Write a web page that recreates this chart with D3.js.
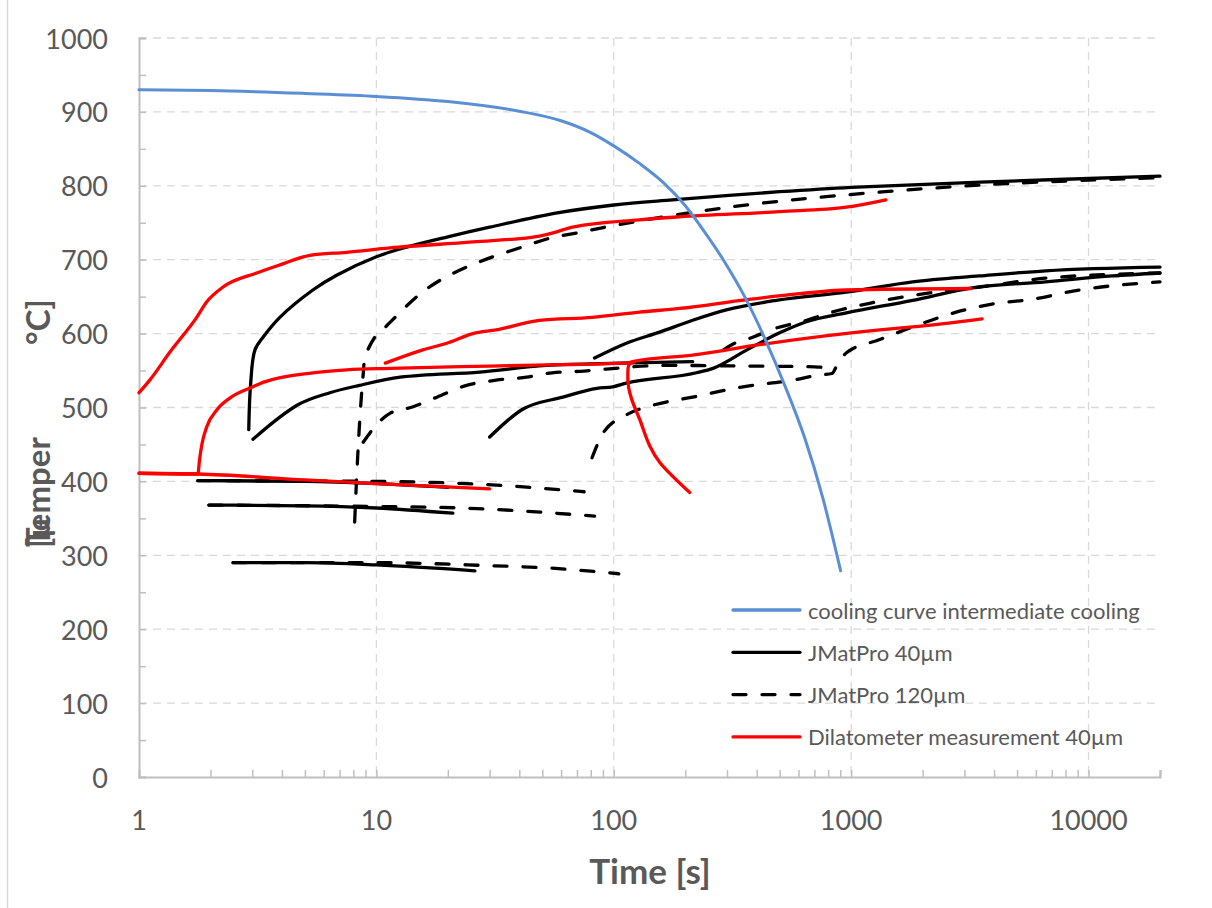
<!DOCTYPE html>
<html><head><meta charset="utf-8">
<script src="https://cdn.jsdelivr.net/npm/d3@7/dist/d3.min.js"></script>
<style>
html,body{margin:0;padding:0;background:#fff;}
svg{display:block;font-family:Lato,"Open Sans",sans-serif;}
</style></head>
<body>
<svg id="chart" width="1212" height="908"></svg>
<script>
// ---- data (time [s], temperature [°C]) ----
const xTicks = [1, 10, 100, 1000, 10000];
const yTicks = [0, 100, 200, 300, 400, 500, 600, 700, 800, 900, 1000];
const legendLabels = ["cooling curve intermediate cooling", "JMatPro 40µm", "JMatPro 120µm", "Dilatometer measurement 40µm"];

const coolingCurve = [[1,930],[2,929],[5,925],[10,921],[20,914],[40,901],[60,888],[80,872],[100,854],[128.7,830],[161,805],[199,774],[242,737],[293,697],[356,650],[432,594],[525,530],[637,459],[759,378],[903,279]];

// JMatPro 40µm (solid)
const jmp40_a = [[2.9,470],[2.95,530],[3.08,578],[3.33,595],[3.92,622],[5.4,659],[6.8,679],[10,704],[13.4,717],[20,731],[30,744],[57,763],[100,774],[177,781],[500,792],[1000,798],[3500,805],[20000,813]];
const jmp40_b = [[3.02,457],[3.92,487],[4.63,503],[6.37,520],[8.5,530],[12.6,541],[27.3,548],[52,557],[106,560],[215,562]];
const jmp40_c = [[30,460],[41,497],[61,514],[85,526],[99,528],[113,533],[223,547],[262,553],[364,578],[500,601],[648,616],[955,628],[1816,645],[3238,662],[6600,670],[12600,678],[20000,682]];
const jmp40_d = [[83,567],[113,587],[156,602],[215,618],[298,632],[484,645],[955,656],[1816,670],[3477,678],[6600,685],[20000,690]];
const jmp40_e = [[1.77,401],[5,400],[10,397],[20,392]];
const jmp40_f = [[1.97,368],[5,367],[10,364],[21,357]];
const jmp40_g = [[2.49,290],[5,290],[10,287],[26,279]];

// JMatPro 120µm (dashed)
const jmp120_a = [[8.1,345],[8.3,420],[8.5,480],[8.8,545],[9.0,570],[10,598],[10.6,605],[14.8,650],[18.5,672],[24,690],[31,704],[41,717],[53.6,729],[72,737],[99,746],[224,765],[568,781],[3477,801],[20000,811]];
const jmp120_b = [[8.8,453],[10.3,481],[11.4,492],[14.3,501],[18,514],[24,530],[32,537],[43,541],[55,547],[72,549],[93,552],[161,557],[400,556],[700,555],[800,553],[840,548]];
const jmp120_c = [[81,432],[90,465],[113,490],[146,503],[215,514],[350,528],[568,537],[735,544],[830,546],[880,560],[955,574],[1320,592],[1816,609],[2770,629],[4100,641],[5660,646],[9140,659],[20000,670]];
const jmp120_d = [[290,578],[314,585],[385,595],[467,606],[650,618],[810,628],[1197,641],[2140,655],[3477,663],[6600,675],[20000,682]];
const jmp120_e = [[1.77,401],[10,400],[32,395],[75,386]];
const jmp120_f = [[1.97,368],[10,366],[23,364],[41,360],[83,353]];
const jmp120_g = [[2.49,290],[10,290],[30,286],[52,283],[105,275]];

// Dilatometer measurement 40µm (red)
const dil_a = [[1,520],[1.11,537],[1.35,575],[1.75,622],[1.93,643],[2.26,663],[3.13,682],[3.92,693],[5.25,706],[7.5,710],[11.4,716],[25.5,724],[48.6,732],[55,736],[67,744],[128,754],[189,758],[500,765],[955,771],[1400,781]];
const dil_b = [[1,411],[1.77,410],[1.8,430],[1.84,450],[1.93,474],[2.13,497],[2.42,513],[3.02,528],[3.33,534],[5.4,547],[7.5,551],[11.4,553],[30,556],[60,558],[113,560],[120,562],[215,571],[411,585],[1320,605],[1816,609],[3560,620]];
const dil_c = [[122,562],[116,558],[114.6,545],[115.5,527],[119,511],[128.6,484],[141.8,448],[156,426],[209,385]];
const dil_d = [[10.9,560],[15.7,578],[19.8,587],[25.5,600],[32,605],[48.6,618],[81,622],[128,629],[189,634],[364,646],[607,654],[955,659],[3200,661]];
const dil_e = [[1,411],[1.77,410],[5,402],[10,397],[30,390]];

// ---- drawing ----
const svg = d3.select("#chart");
const W = 1212, H = 908;
const x = d3.scaleLog().domain([1, 20000]).range([139, 1160]);
const y = d3.scaleLinear().domain([0, 1000]).range([777, 38]);
const textCol = "#595959", axisCol = "#bfbfbf", gridCol = "#d9d9d9";

// chart area border (left edge visible)
svg.append("line").attr("x1", 7.5).attr("x2", 7.5).attr("y1", 0).attr("y2", H)
  .attr("stroke", "#d9d9d9").attr("stroke-width", 1.5);

// grid
const g = svg.append("g");
g.selectAll(".hg").data(yTicks.filter(d => d > 0)).join("line")
  .attr("x1", 139).attr("x2", 1160).attr("y1", d => y(d)).attr("y2", d => y(d))
  .attr("stroke", gridCol).attr("stroke-width", 1.3).attr("stroke-dasharray", "8,6");
g.selectAll(".vg").data(xTicks.filter(d => d > 1)).join("line")
  .attr("x1", d => x(d)).attr("x2", d => x(d)).attr("y1", 38).attr("y2", 777)
  .attr("stroke", gridCol).attr("stroke-width", 1.3).attr("stroke-dasharray", "8,6");

// axes via d3
const minorY = d3.range(0, 1001, 50);
const yAxis = d3.axisRight(y).tickValues(minorY).tickSize(7).tickFormat("");
const ya = svg.append("g").attr("transform", "translate(139,0)").call(yAxis);
ya.select(".domain").attr("stroke", axisCol).attr("stroke-width", 2);
ya.selectAll(".tick line").attr("stroke", axisCol).attr("stroke-width", 1.5);

const minorX = [];
for (let e = 0; e <= 4; e++) for (let m = 1; m <= 9; m++) { const v = m * Math.pow(10, e); if (v <= 20000) minorX.push(v); }
minorX.push(20000);
const xAxis = d3.axisTop(x).tickValues(minorX).tickSize(7).tickFormat("");
const xa = svg.append("g").attr("transform", "translate(0,777)").call(xAxis);
xa.select(".domain").attr("stroke", axisCol).attr("stroke-width", 2);
xa.selectAll(".tick line").attr("stroke", axisCol).attr("stroke-width", 1.5);

// tick labels
svg.selectAll(".yl").data(yTicks).join("text")
  .attr("x", 108).attr("y", d => y(d)).attr("text-anchor", "end").attr("dominant-baseline", "central")
  .attr("fill", textCol).attr("font-size", 27).text(d => d);
svg.selectAll(".xl").data(xTicks).join("text")
  .attr("x", d => x(d)).attr("y", 819).attr("text-anchor", "middle").attr("dominant-baseline", "central")
  .attr("fill", textCol).attr("font-size", 27).text(d => d);

// axis titles
svg.append("text").attr("x", 650).attr("y", 870).attr("text-anchor", "middle").attr("dominant-baseline", "central")
  .attr("fill", textCol).attr("font-size", 35).attr("font-weight", "bold").text("Time [s]");
svg.append("text").attr("transform", "translate(50,547) rotate(-90)").attr("text-anchor", "start")
  .attr("fill", textCol).attr("font-size", 33).attr("font-weight", "bold").text("Temper");
svg.append("text").attr("transform", "translate(50,548) rotate(-90)").attr("text-anchor", "start")
  .attr("fill", textCol).attr("font-size", 33).attr("font-weight", "bold").text("[µ");
svg.append("text").attr("transform", "translate(50,345) rotate(-90)").attr("text-anchor", "start")
  .attr("fill", textCol).attr("font-size", 33).attr("font-weight", "bold").text("°C]");

// series
const lineM = d3.line().x(d => x(d[0])).y(d => y(d[1])).curve(d3.curveMonotoneX);
const lineC = d3.line().x(d => x(d[0])).y(d => y(d[1])).curve(d3.curveCatmullRom.alpha(0.5));
const plot = svg.append("g");
const DASH = "13,16";
function draw(data, color, dashed, gen, width) {
  plot.append("path").datum(data).attr("d", gen || lineM).attr("fill", "none")
    .attr("stroke", color).attr("stroke-width", width || 3.3)
    .attr("stroke-linecap", "round").attr("stroke-linejoin", "round")
    .attr("stroke-dasharray", dashed ? DASH : null);
}
const BLACK = "#000000", RED = "#ff0000", BLUE = "#5a8fd6";
draw(jmp120_a, BLACK, true, lineC);
[jmp120_b, jmp120_c, jmp120_d, jmp120_e, jmp120_f, jmp120_g].forEach(s => draw(s, BLACK, true));
draw(jmp40_a, BLACK, false, lineC);
[jmp40_b, jmp40_c, jmp40_d, jmp40_e, jmp40_f, jmp40_g].forEach(s => draw(s, BLACK, false));
[dil_a, dil_b, dil_d, dil_e].forEach(s => draw(s, RED, false));
draw(dil_c, RED, false, lineC);
draw(coolingCurve, BLUE, false, lineM, 3);

// legend
const legendStyles = [{c: BLUE, d: false}, {c: BLACK, d: false}, {c: BLACK, d: true}, {c: RED, d: false}];
const lg = svg.append("g");
legendLabels.forEach((lab, i) => {
  const yy = 610 + i * 42.3;
  lg.append("line").attr("x1", 733).attr("x2", 800).attr("y1", yy).attr("y2", yy)
    .attr("stroke", legendStyles[i].c).attr("stroke-width", 3.3)
    .attr("stroke-linecap", "round").attr("stroke-dasharray", legendStyles[i].d ? DASH : null);
  lg.append("text").attr("x", 808).attr("y", yy).attr("dominant-baseline", "central")
    .attr("fill", textCol).attr("font-size", 22).text(lab);
});
</script>
</body></html>
